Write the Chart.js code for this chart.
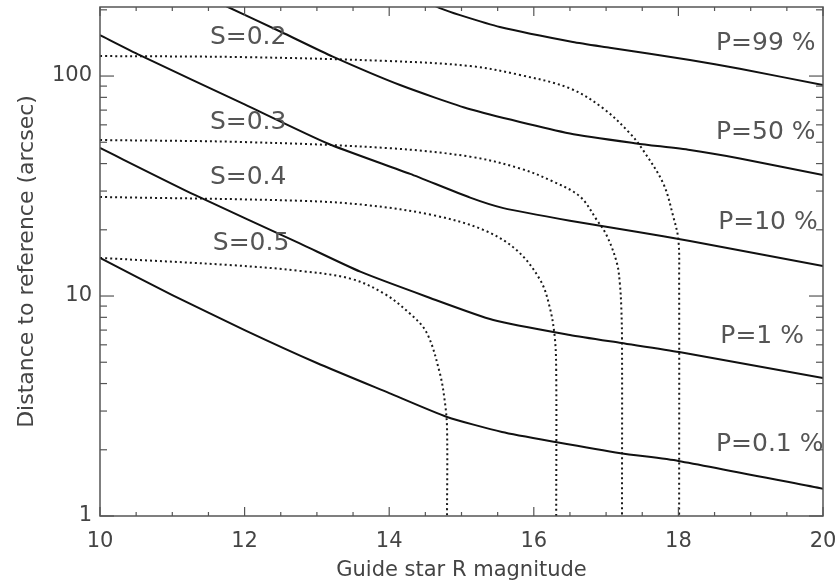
<!DOCTYPE html>
<html><head><meta charset="utf-8">
<script src="https://cdn.jsdelivr.net/npm/chart.js@4/dist/chart.umd.min.js"></script>
<style>html,body{margin:0;padding:0;background:#fff;}#wrap{width:838px;height:584px;}</style>
</head><body><div id="wrap"><canvas id="c" width="838" height="584"></canvas></div>
<script>
// ---- data (magnitude, distance in arcsec) ----
const magP99  = [14.5, 14.7, 14.98, 15.53, 16.54, 17.05, 18.16, 18.85, 20];
const distP99 = [219, 203.7, 189.2, 167.1, 142.9, 134.6, 118.3, 107.9, 91.0];

const magP50  = [11.5, 11.77, 12.5, 13.22, 14.15, 15.12, 16.5, 17.42, 18.16, 18.85, 20];
const distP50 = [227, 206, 159, 122.5, 91.0, 70.6, 54.8, 49.4, 46.1, 42.2, 35.5];

const magP10  = [10, 10.55, 12, 13.14, 14.29, 15.12, 15.58, 16.5, 17.42, 18.16, 20];
const distP10 = [153.5, 124.5, 74.3, 49.5, 35.9, 28.0, 25.1, 22.0, 19.6, 17.8, 13.7];

const magP1   = [10, 11.31, 12.77, 13.6, 14.52, 15.44, 16.5, 17.21, 18.01, 20];
const distP1  = [47.1, 28.8, 17.3, 12.9, 9.93, 7.78, 6.65, 6.11, 5.56, 4.24];

const magP01  = [10, 11, 12, 13, 14, 14.8, 15.56, 16.3, 17.2, 18, 20];
const distP01 = [14.9, 10.1, 7.0, 4.96, 3.62, 2.82, 2.41, 2.17, 1.93, 1.78, 1.33];

const magS02  = [10, 12, 14, 15.12, 15.81, 16.5, 16.96, 17.33, 17.51, 17.79, 17.93, 18.0, 18.01, 18.01];
const distS02 = [123.3, 121.9, 117, 111, 101.1, 87.9, 71.3, 54.9, 46.1, 32.5, 22.9, 18.0, 12, 1];

const magS03  = [10, 12, 14, 15.12, 15.81, 16.27, 16.64, 16.87, 17.01, 17.15, 17.19, 17.21, 17.22, 17.22];
const distS03 = [51.2, 50.1, 47.0, 43.0, 38.0, 33.1, 28.3, 22.2, 18.8, 14.1, 11.4, 8.9, 6.3, 1];

const magS04  = [10, 12.77, 13.69, 14.61, 15.3, 15.76, 16.09, 16.22, 16.29, 16.31, 16.31];
const distS04 = [28.2, 27.1, 25.9, 23.3, 20.0, 16.2, 11.8, 8.9, 6.5, 4.5, 1];

const magS05  = [10, 11.84, 12.77, 13.46, 13.92, 14.29, 14.52, 14.7, 14.77, 14.8, 14.8];
const distS05 = [14.9, 13.8, 13.0, 12.0, 10.3, 8.3, 6.8, 4.46, 3.3, 2.5, 1];

const xTickValues = [10, 12, 14, 16, 18, 20];
const yTickValues = [1, 10, 100];

const curveTexts = ['S=0.2', 'S=0.3', 'S=0.4', 'S=0.5', 'P=99 %', 'P=50 %', 'P=10 %', 'P=1 %', 'P=0.1 %'];
const textMag    = [11.52, 11.52, 11.52, 11.56, 18.52, 18.52, 18.55, 18.58, 18.52];
const textDist   = [149.6, 61.8, 34.4, 17.4, 141, 55.4, 21.5, 6.58, 2.12];

// ---- build datasets ----
const pts = (m, d) => m.map((v, i) => ({x: v, y: d[i]}));
const solid = (label, m, d) => ({label, data: pts(m, d), borderColor: '#111', borderWidth: 2, pointRadius: 0, showLine: true, tension: 0.2, fill: false});
const dotted = (label, m, d) => ({label, data: pts(m, d), borderColor: '#1a1a1a', borderWidth: 2, borderDash: [2, 3], pointRadius: 0, showLine: true, tension: 0.35, fill: false});

const datasets = [
  solid('P=99 %', magP99, distP99),
  solid('P=50 %', magP50, distP50),
  solid('P=10 %', magP10, distP10),
  solid('P=1 %', magP1, distP1),
  solid('P=0.1 %', magP01, distP01),
  dotted('S=0.2', magS02, distS02),
  dotted('S=0.3', magS03, distS03),
  dotted('S=0.4', magS04, distS04),
  dotted('S=0.5', magS05, distS05)
];

const FONT = '"DejaVu Sans", sans-serif';

const framePlugin = {
  id: 'frame',
  afterDatasetsDraw(chart) {
    const {ctx, chartArea: a, scales: {x, y}} = chart;
    ctx.save();
    ctx.strokeStyle = '#555';
    ctx.lineWidth = 1.5;
    ctx.strokeRect(a.left, a.top, a.right - a.left, a.bottom - a.top);
    ctx.lineWidth = 1.2;
    const seg = (x1, y1, x2, y2) => { ctx.beginPath(); ctx.moveTo(x1, y1); ctx.lineTo(x2, y2); ctx.stroke(); };
    for (let i = 0; i <= 20; i++) {
      const m = x.min + i * 0.5;
      const px = x.getPixelForValue(m);
      const L = (i % 4 === 0) ? 9 : 4;
      seg(px, a.bottom, px, a.bottom - L);
      seg(px, a.top, px, a.top + L);
    }
    for (let d = 1; d <= 100; d *= 10) {
      for (let k = 1; k <= 9; k++) {
        const v = d * k;
        if (v > y.max) break;
        const py = y.getPixelForValue(v);
        const L = (k === 1) ? 14 : 7;
        seg(a.left, py, a.left + L, py);
        seg(a.right, py, a.right - L, py);
      }
    }
    ctx.fillStyle = '#555';
    ctx.font = '25px ' + FONT;
    ctx.textBaseline = 'middle';
    ctx.textAlign = 'left';
    curveTexts.forEach((t, i) => {
      ctx.fillText(t, x.getPixelForValue(textMag[i]), y.getPixelForValue(textDist[i]));
    });
    ctx.restore();
  }
};

new Chart(document.getElementById('c'), {
  type: 'scatter',
  data: {datasets},
  options: {
    responsive: false,
    animation: false,
    devicePixelRatio: 1,
    layout: {padding: {left: 0, right: 15, top: 7, bottom: 0}},
    plugins: {legend: {display: false}, tooltip: {enabled: false}},
    scales: {
      x: {
        type: 'linear', min: 10, max: 20,
        afterBuildTicks: s => { s.ticks = xTickValues.map(v => ({value: v})); },
        afterFit: s => { s.height = 68; s.paddingLeft = 0; s.paddingRight = 0; },
        grid: {display: false, drawTicks: false},
        border: {display: false},
        ticks: {color: '#444', font: {family: FONT, size: 21}, padding: 13, callback: v => String(v), maxRotation: 0, autoSkip: false},
        title: {display: true, text: 'Guide star R magnitude', color: '#444', font: {family: FONT, size: 21}, padding: {top: 0, bottom: 1}}
      },
      y: {
        type: 'logarithmic', min: 1, max: 206,
        afterBuildTicks: s => { s.ticks = yTickValues.map(v => ({value: v})); },
        afterFit: s => { s.width = 100; s.paddingTop = 0; s.paddingBottom = 0; },
        grid: {display: false, drawTicks: false},
        border: {display: false},
        ticks: {color: '#444', font: {family: FONT, size: 21}, padding: 8, callback: v => String(v), autoSkip: false},
        title: {display: true, text: 'Distance to reference (arcsec)', color: '#444', font: {family: FONT, size: 22}, padding: {top: 14, bottom: 0}}
      }
    }
  },
  plugins: [framePlugin]
});
</script>
</body></html>
